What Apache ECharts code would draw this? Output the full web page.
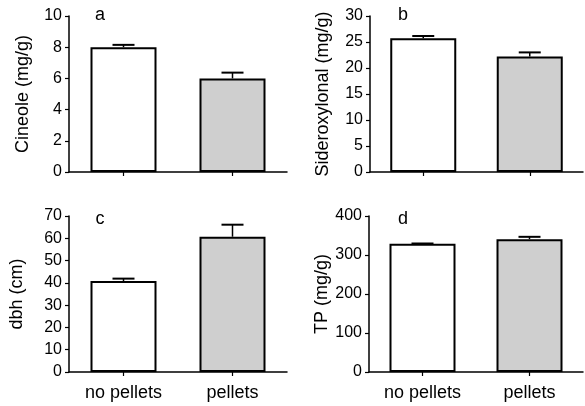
<!DOCTYPE html>
<html>
<head>
<meta charset="utf-8">
<script src="https://cdn.jsdelivr.net/npm/echarts@6/dist/echarts.min.js"></script>
<style>
html,body{margin:0;padding:0;background:#fff;}
#chart{width:585px;height:406px;}
</style>
</head>
<body>
<div id="chart"></div>
<script>
const categories = ['no pellets', 'pellets'];
const cineoleMean = [8.0, 6.0];
const cineoleErr = [0.15, 0.37];
const siderMean = [25.7, 22.2];
const siderErr = [0.45, 0.8];
const dbhMean = [40.8, 60.7];
const dbhErr = [1.1, 5.4];
const tpMean = [328.7, 340.6];
const tpErr = [0.8, 6];
const panelLetters = ['a', 'b', 'c', 'd'];
const yTitles = ['Cineole (mg/g)', 'Sideroxylonal (mg/g)', 'dbh (cm)', 'TP (mg/g)'];
const yMax = [10, 30, 70, 400];
const yInterval = [2, 5, 10, 100];

const FONT = 'Liberation Sans, Arial, sans-serif';
const means = [cineoleMean, siderMean, dbhMean, tpMean];
const errs = [cineoleErr, siderErr, dbhErr, tpErr];
const grids = [
  {left: 69, right: 298, top: 16, bottom: 234},
  {left: 370, right: 2, top: 16, bottom: 234},
  {left: 69, right: 298, top: 216, bottom: 34},
  {left: 369, right: 2, top: 216, bottom: 34}
];
const nameGaps = [37, 38, 43, 38];
const letterPos = [[100, 15], [403, 15], [100, 219], [403, 219]];

const fills = ['#ffffff', '#cfcfcf'];

const option = {
  animation: false,
  backgroundColor: '#ffffff',
  grid: grids.map(g => Object.assign({containLabel: false}, g)),
  xAxis: grids.map((g, i) => ({
    type: 'category',
    gridIndex: i,
    data: categories,
    axisLine: {lineStyle: {color: '#000', width: 1.5}},
    axisTick: {show: true, alignWithLabel: true, length: 4, inside: false, lineStyle: {color: '#000', width: 1.2},
      interval: 0},
    axisLabel: {show: i >= 2, color: '#000', fontFamily: FONT, fontSize: 18, margin: 12},
    splitLine: {show: false}
  })),
  yAxis: grids.map((g, i) => ({
    type: 'value',
    gridIndex: i,
    min: 0,
    max: yMax[i],
    interval: yInterval[i],
    name: yTitles[i],
    nameLocation: 'middle',
    nameGap: nameGaps[i],
    nameTextStyle: {color: '#000', fontFamily: FONT, fontSize: 18},
    axisLine: {show: true, lineStyle: {color: '#000', width: 1.5}},
    axisTick: {show: true, length: 4, lineStyle: {color: '#000', width: 1.2}},
    axisLabel: {color: '#000', fontFamily: FONT, fontSize: 16, margin: 7},
    splitLine: {show: false}
  })),
  graphic: panelLetters.map((l, i) => ({
    type: 'text',
    x: letterPos[i][0],
    y: letterPos[i][1],
    style: {text: l, fill: '#000', font: '18px ' + FONT, textAlign: 'center', textVerticalAlign: 'middle'}
  })),
  series: []
};

means.forEach((m, i) => {
  option.series.push({
    type: 'bar',
    xAxisIndex: i,
    yAxisIndex: i,
    barWidth: 66,
    data: m.map((v, k) => ({value: v, itemStyle: {color: fills[k]}})),
    itemStyle: {borderColor: '#000', borderWidth: 2}
  });
  option.series.push({
    type: 'custom',
    xAxisIndex: i,
    yAxisIndex: i,
    z: 5,
    data: m.map((v, k) => [k, v, errs[i][k]]),
    renderItem: function (params, api) {
      const idx = api.value(0);
      const mean = api.value(1);
      const e = api.value(2);
      const base = api.coord([idx, mean]);
      const top = api.coord([idx, mean + e]);
      const half = 11;
      return {
        type: 'group',
        children: [
          {type: 'line', shape: {x1: base[0], y1: base[1], x2: top[0], y2: top[1]},
            style: {stroke: '#000', lineWidth: 1.5}},
          {type: 'line', shape: {x1: top[0] - half, y1: top[1], x2: top[0] + half, y2: top[1]},
            style: {stroke: '#000', lineWidth: 2}}
        ]
      };
    }
  });
});

const chart = echarts.init(document.getElementById('chart'), null, {renderer: 'canvas'});
chart.setOption(option);
</script>
</body>
</html>
